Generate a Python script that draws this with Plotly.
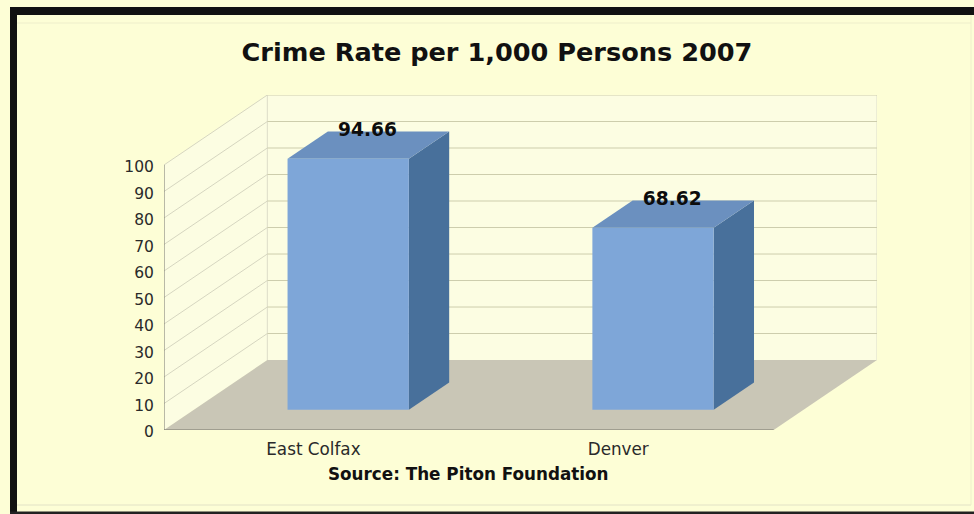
import plotly.graph_objects as go

categories = ["East Colfax", "Denver"]
crime_rates = [94.66, 68.62]
y_ticks = [0, 10, 20, 30, 40, 50, 60, 70, 80, 90, 100]

TITLE = "Crime Rate per 1,000 Persons 2007"
SOURCE = "Source: The Piton Foundation"

PAPER = "#fdfed6"
WALL = "#fcfde2"
GRID_BACK = "#cdcdac"
GRID_SIDE = "#d6d6c0"
EDGE = "#dcdcc8"
FLOOR = "#c9c6b6"
AXIS = "#77776a"
FRONT = "#7ea6d8"
TOP = "#6b90bf"
SIDE = "#48709b"
INK = "#2a2a2a"

# Oblique projection: depth 0 is the front of the box, depth 1 the back wall.
SHEAR_X = 0.339
SHEAR_Y = 26.4
X_MIN, X_MAX = -0.5, 1.5
BAR_HALF = 0.199
BAR_SHIFT = 0.006
BAR_NEAR, BAR_FAR = 0.29, 0.68


def project(x, value, depth):
    return x + depth * SHEAR_X, value + depth * SHEAR_Y


def face(corners, color):
    pts = [project(*c) for c in corners]
    xs, ys = zip(*pts)
    return go.Scatter(x=list(xs) + [xs[0]], y=list(ys) + [ys[0]], mode="lines",
                      fill="toself", fillcolor=color, line=dict(width=0),
                      hoverinfo="skip", showlegend=False)


def segments(pairs, color, width):
    xs, ys = [], []
    for a, b in pairs:
        for c in (a, b):
            px, py = project(*c)
            xs.append(px)
            ys.append(py)
        xs.append(None)
        ys.append(None)
    return go.Scatter(x=xs, y=ys, mode="lines", line=dict(color=color, width=width),
                      hoverinfo="skip", showlegend=False)


fig = go.Figure()

# Walls and floor of the box
fig.add_trace(face([(X_MIN, 0, 1), (X_MAX, 0, 1), (X_MAX, 100, 1), (X_MIN, 100, 1)], WALL))
fig.add_trace(face([(X_MIN, 0, 0), (X_MIN, 0, 1), (X_MIN, 100, 1), (X_MIN, 100, 0)], WALL))
fig.add_trace(face([(X_MIN, 0, 0), (X_MAX, 0, 0), (X_MAX, 0, 1), (X_MIN, 0, 1)], FLOOR))

# Gridlines run along the side wall and across the back wall
side_lines = [((X_MIN, t, 0), (X_MIN, t, 1)) for t in y_ticks if t > 0]
back_lines = [((X_MIN, t, 1), (X_MAX, t, 1)) for t in y_ticks if t > 0]
wall_edges = [((X_MIN, 0, 1), (X_MIN, 100, 1)), ((X_MAX, 0, 1), (X_MAX, 100, 1))]
fig.add_trace(segments(side_lines, GRID_SIDE, 1))
fig.add_trace(segments(wall_edges, EDGE, 1))
fig.add_trace(segments(back_lines, GRID_BACK, 1))

# Front edges of the box
fig.add_trace(segments([((X_MIN, 0, 0), (X_MAX, 0, 0)),
                        ((X_MIN, 0, 0), (X_MIN, 100, 0))], AXIS, 1))

# Bars as three visible faces
for i, v in enumerate(crime_rates):
    l, r = i + BAR_SHIFT - BAR_HALF, i + BAR_SHIFT + BAR_HALF
    fig.add_trace(face([(r, 0, BAR_NEAR), (r, 0, BAR_FAR), (r, v, BAR_FAR), (r, v, BAR_NEAR)], SIDE))
    fig.add_trace(face([(l, v, BAR_NEAR), (r, v, BAR_NEAR), (r, v, BAR_FAR), (l, v, BAR_FAR)], TOP))
    fig.add_trace(face([(l, 0, BAR_NEAR), (r, 0, BAR_NEAR), (r, v, BAR_NEAR), (l, v, BAR_NEAR)], FRONT))

# Value labels sit on the back edge of each bar's top face
label_x = [project(i + BAR_SHIFT, 0, (BAR_NEAR + BAR_FAR) / 2)[0] - 0.003 for i in range(len(crime_rates))]
label_y = [project(0, v, BAR_FAR)[1] for v in crime_rates]
fig.add_trace(go.Scatter(x=label_x, y=label_y, mode="text",
                         text=[f"{v:.2f}" for v in crime_rates],
                         textposition="middle center",
                         textfont=dict(family="DejaVu Sans", size=18.6, color="#0c0c0c", weight="bold"),
                         hoverinfo="skip", showlegend=False))


def hline(px_x0, px_x1, px_y, color, width):
    return dict(type="line", xref="paper", yref="paper", layer="above",
                x0=(px_x0 - 164) / 713, x1=(px_x1 - 164) / 713,
                y0=(430 - px_y) / 335, y1=(430 - px_y) / 335,
                line=dict(color=color, width=width))


def frame_rect(px_x0, px_x1, px_y0, px_y1, color):
    return dict(type="rect", xref="paper", yref="paper", layer="above",
                x0=(px_x0 - 164) / 713, x1=(px_x1 - 164) / 713,
                y0=(430 - px_y1) / 335, y1=(430 - px_y0) / 335,
                fillcolor=color, line=dict(width=0))


fig.update_layout(
    width=974, height=514,
    margin=dict(l=164, r=97, t=95, b=84),
    paper_bgcolor=PAPER, plot_bgcolor=PAPER,
    font=dict(family="DejaVu Sans", color=INK),
    title=dict(text=TITLE, x=497 / 974, xanchor="center", y=1 - 52 / 514, yanchor="middle",
               font=dict(family="DejaVu Sans", size=25.6, color="#111111", weight="bold")),
    xaxis=dict(range=[X_MIN, X_MAX + SHEAR_X], tickvals=list(range(len(categories))),
               ticktext=categories, showgrid=False, zeroline=False, showline=False,
               ticks="outside", ticklen=4, tickcolor="rgba(0,0,0,0)", ticklabelshift=-3,
               tickfont=dict(size=16.8, color=INK)),
    yaxis=dict(range=[0, 100 + SHEAR_Y], tickvals=y_ticks, showgrid=False, zeroline=False,
               showline=False, ticks="outside", ticklen=6, tickcolor="rgba(0,0,0,0)",
               ticklabelshift=2, tickfont=dict(size=15.5, color=INK)),
    annotations=[dict(text=f"<b>{SOURCE}</b>", xref="paper", yref="paper",
                      x=(468.5 - 164) / 713, y=-(474 - 430) / 335, xanchor="center", yanchor="middle",
                      showarrow=False, font=dict(family="DejaVu Sans", size=16.8, color="#111111"))],
    shapes=[
        # Heavy frame on the top, left and bottom of the panel
        frame_rect(10, 974, 7, 15, "#111111"),
        frame_rect(10, 17, 7, 514, "#111111"),
        frame_rect(10, 974, 511.5, 514, "#222222"),
        # Faint inner rule just inside the frame
        hline(17, 971, 23, "#eeeecb", 1),
        hline(17, 971, 505, "#e2e2c6", 1),
        dict(type="line", xref="paper", yref="paper", layer="above",
             x0=(971 - 164) / 713, x1=(971 - 164) / 713, y0=(430 - 505) / 335, y1=(430 - 15) / 335,
             line=dict(color="#eeeecb", width=1)),
    ],
)

fig.write_html("out.html")
